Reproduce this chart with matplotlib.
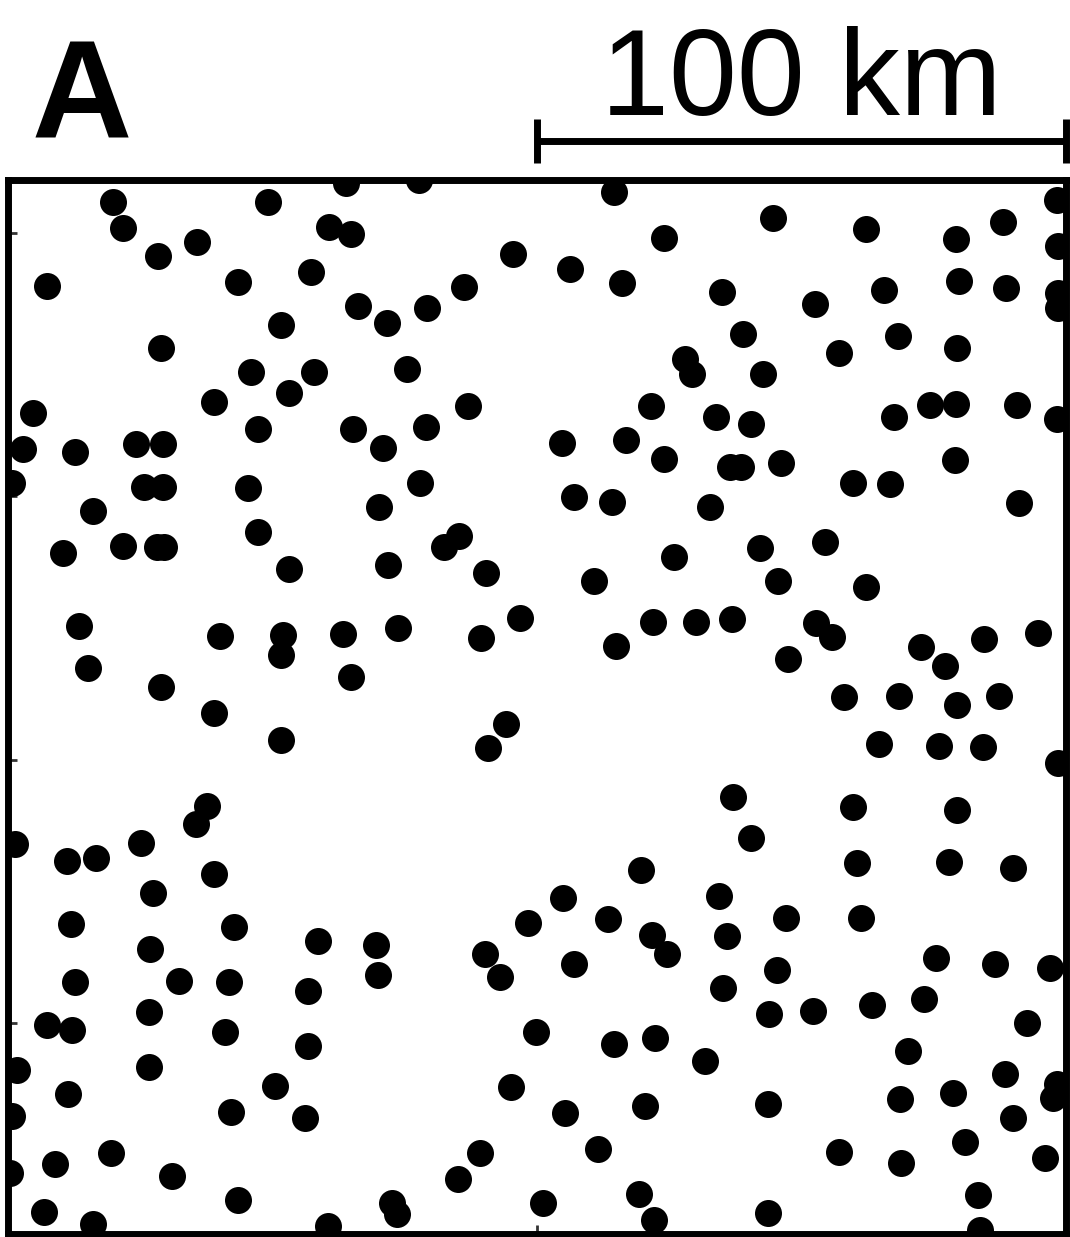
import matplotlib
matplotlib.use("Agg")
import matplotlib.pyplot as plt
from matplotlib.transforms import blended_transform_factory

# station positions, km from the lower-left corner of the 200 x 200 km box
x_km = [
    19.8, 21.7, 49.2, 63.9, 60.7, 64.8, 35.7, 28.4, 7.4, 43.5,
    57.3, 66.2, 51.6, 28.9, 45.9, 57.8, 53.1, 38.9, 4.7, 47.3,
    65.2, 2.8, 12.7, 24.2, 29.3, 77.7, 114.6, 124.0, 95.5, 106.2,
    116.1, 86.2, 71.6, 79.2, 75.4, 128.0, 129.3, 87.0, 121.6, 133.8,
    79.0, 70.9, 104.7, 116.8, 198.3, 144.6, 162.2, 179.2, 188.1, 198.5,
    135.0, 152.6, 165.6, 179.8, 188.7, 198.5, 198.5, 138.9, 168.2, 157.1,
    179.4, 142.7, 140.4, 167.5, 174.3, 179.2, 190.7, 198.3, 0.8, 25.7,
    29.3, 45.4, 16.1, 10.4, 21.7, 28.2, 29.5, 47.3, 53.1, 13.4,
    40.1, 52.0, 51.6, 63.3, 15.1, 28.9, 64.8, 38.9, 124.0, 77.9,
    70.1, 107.0, 114.2, 132.7, 85.3, 82.4, 71.8, 90.4, 125.9, 110.8,
    73.7, 89.4, 96.8, 114.9, 121.9, 130.1, 136.5, 138.6, 146.1, 159.7,
    166.7, 179.0, 191.1, 142.2, 154.4, 145.6, 162.2, 136.9, 152.7, 155.8,
    172.6, 177.1, 184.5, 194.7, 147.5, 158.0, 168.4, 179.4, 187.3, 51.6,
    37.6, 35.5, 1.3, 11.2, 16.6, 25.1, 38.9, 27.4, 11.9, 42.7,
    58.6, 26.8, 94.1, 90.7, 119.7, 104.9, 98.3, 113.4, 121.7, 124.6,
    69.6, 69.9, 90.2, 93.0, 107.0, 134.4, 135.9, 198.5, 164.6, 176.0,
    184.3, 137.1, 159.7, 179.4, 140.4, 160.5, 177.9, 190.0, 147.1, 161.2,
    175.4, 186.6, 197.0, 145.4, 12.7, 32.3, 41.8, 56.7, 26.7, 7.4,
    12.1, 41.0, 56.7, 1.7, 26.7, 11.3, 50.5, 0.8, 42.2, 56.1,
    19.5, 8.9, 0.4, 31.0, 43.5, 6.8, 16.1, 60.5, 99.8, 114.6,
    122.3, 131.8, 95.1, 105.3, 120.4, 111.5, 89.2, 85.1, 72.6, 73.5,
    101.1, 119.3, 122.1, 135.2, 143.8, 152.2, 163.3, 173.2, 192.6, 170.1,
    188.4, 198.3, 197.5, 178.6, 168.6, 143.7, 190.0, 180.9, 157.1, 168.8,
    196.0, 183.3, 143.7, 183.7,
]
y_km = [
    195.8, 190.9, 195.8, 199.4, 191.1, 189.8, 188.2, 185.6, 179.9, 180.6,
    182.5, 176.1, 172.5, 168.1, 163.6, 163.6, 159.6, 157.9, 155.8, 152.7,
    152.7, 149.0, 148.4, 149.9, 149.9, 200.0, 197.7, 189.0, 186.0, 183.1,
    180.5, 179.7, 172.9, 175.7, 164.1, 166.0, 163.2, 157.1, 157.1, 155.0,
    153.1, 149.1, 150.1, 150.7, 196.2, 192.8, 190.7, 188.8, 192.0, 187.5,
    178.7, 176.5, 179.1, 180.8, 179.5, 178.6, 175.7, 170.8, 170.4, 167.2,
    168.1, 163.2, 153.7, 155.0, 157.3, 157.5, 157.3, 154.6, 142.5, 141.7,
    141.7, 141.6, 137.2, 129.2, 130.5, 130.4, 130.4, 133.2, 126.2, 115.4,
    113.5, 113.7, 109.9, 113.9, 107.4, 103.8, 105.7, 98.9, 147.1, 142.5,
    138.0, 139.8, 138.9, 138.0, 132.4, 130.4, 126.9, 125.4, 128.5, 123.9,
    115.0, 113.1, 116.9, 111.6, 116.1, 116.1, 145.5, 145.5, 146.3, 142.5,
    142.3, 146.9, 138.7, 130.2, 131.3, 123.9, 122.8, 116.7, 115.9, 113.3,
    111.4, 107.8, 112.9, 114.0, 109.1, 101.9, 102.1, 100.4, 102.1, 93.7,
    81.2, 77.8, 74.0, 70.8, 71.3, 74.2, 68.3, 64.7, 58.8, 58.3,
    55.6, 54.1, 96.8, 92.2, 69.1, 63.8, 59.0, 59.8, 56.7, 53.1,
    54.8, 49.1, 53.1, 48.8, 51.2, 64.1, 56.5, 89.4, 93.0, 92.6,
    92.4, 82.9, 81.0, 80.5, 75.1, 70.4, 70.6, 69.4, 60.0, 60.0,
    52.4, 51.2, 50.5, 50.1, 47.8, 48.0, 47.8, 46.1, 42.1, 39.7,
    38.7, 38.3, 35.7, 31.1, 31.7, 26.6, 28.1, 22.4, 23.1, 22.0,
    15.4, 13.3, 11.6, 11.0, 6.5, 4.2, 1.9, 1.5, 38.3, 36.1,
    37.2, 32.8, 27.9, 23.0, 24.3, 16.1, 15.4, 10.4, 5.9, 3.8,
    5.9, 7.6, 2.7, 46.7, 41.7, 42.3, 43.5, 44.6, 40.0, 34.7,
    30.4, 28.5, 25.8, 26.8, 25.6, 24.7, 22.0, 17.5, 15.6, 13.5,
    14.4, 7.4, 4.0, 0.8,
]

x_ticks = [100]
y_ticks = [40, 90, 140, 190]

bar_start = 100
bar_length = 100
bar_label = "100 km"
panel_label = "A"


def main():
    W, H = 1070, 1237
    fig = plt.figure(figsize=(W / 100, H / 100), dpi=100)
    ax = fig.add_axes([8 / W, 3 / H, 1058 / W, 1054 / H])

    ax.scatter(x_km, y_km, s=378, c="black", linewidths=0, zorder=2)

    ax.set_xlim(0, 200)
    ax.set_ylim(0, 200)
    ax.set_xticks(x_ticks)
    ax.set_yticks(y_ticks)
    ax.set_xticklabels([])
    ax.set_yticklabels([])
    ax.tick_params(direction="in", length=6.5, width=2, color="#333333")
    for sp in ax.spines.values():
        sp.set_linewidth(5)
        sp.set_zorder(3)

    # scale bar above the box: x in km, y in figure fraction
    tr = blended_transform_factory(ax.transData, fig.transFigure)
    x0, x1 = bar_start, bar_start + bar_length
    yb = 1 - 141 / H
    cap = 22 / H
    ax.plot([x0, x1], [yb, yb], color="black", lw=5, transform=tr,
            clip_on=False, solid_capstyle="butt")
    for xc in (x0, x1):
        ax.plot([xc, xc], [yb - cap, yb + cap], color="black", lw=5,
                transform=tr, clip_on=False, solid_capstyle="butt")
    ax.text((x0 + x1) / 2, 1 - 115 / H, bar_label, transform=tr,
            ha="center", va="baseline", fontsize=88,
            family="Liberation Sans")

    fig.text(32 / W, 1 - 138 / H, panel_label, ha="left", va="baseline",
             fontsize=100, fontweight="bold", family="Liberation Sans")

    fig.savefig("out.png", dpi=100)


if __name__ == "__main__":
    main()
